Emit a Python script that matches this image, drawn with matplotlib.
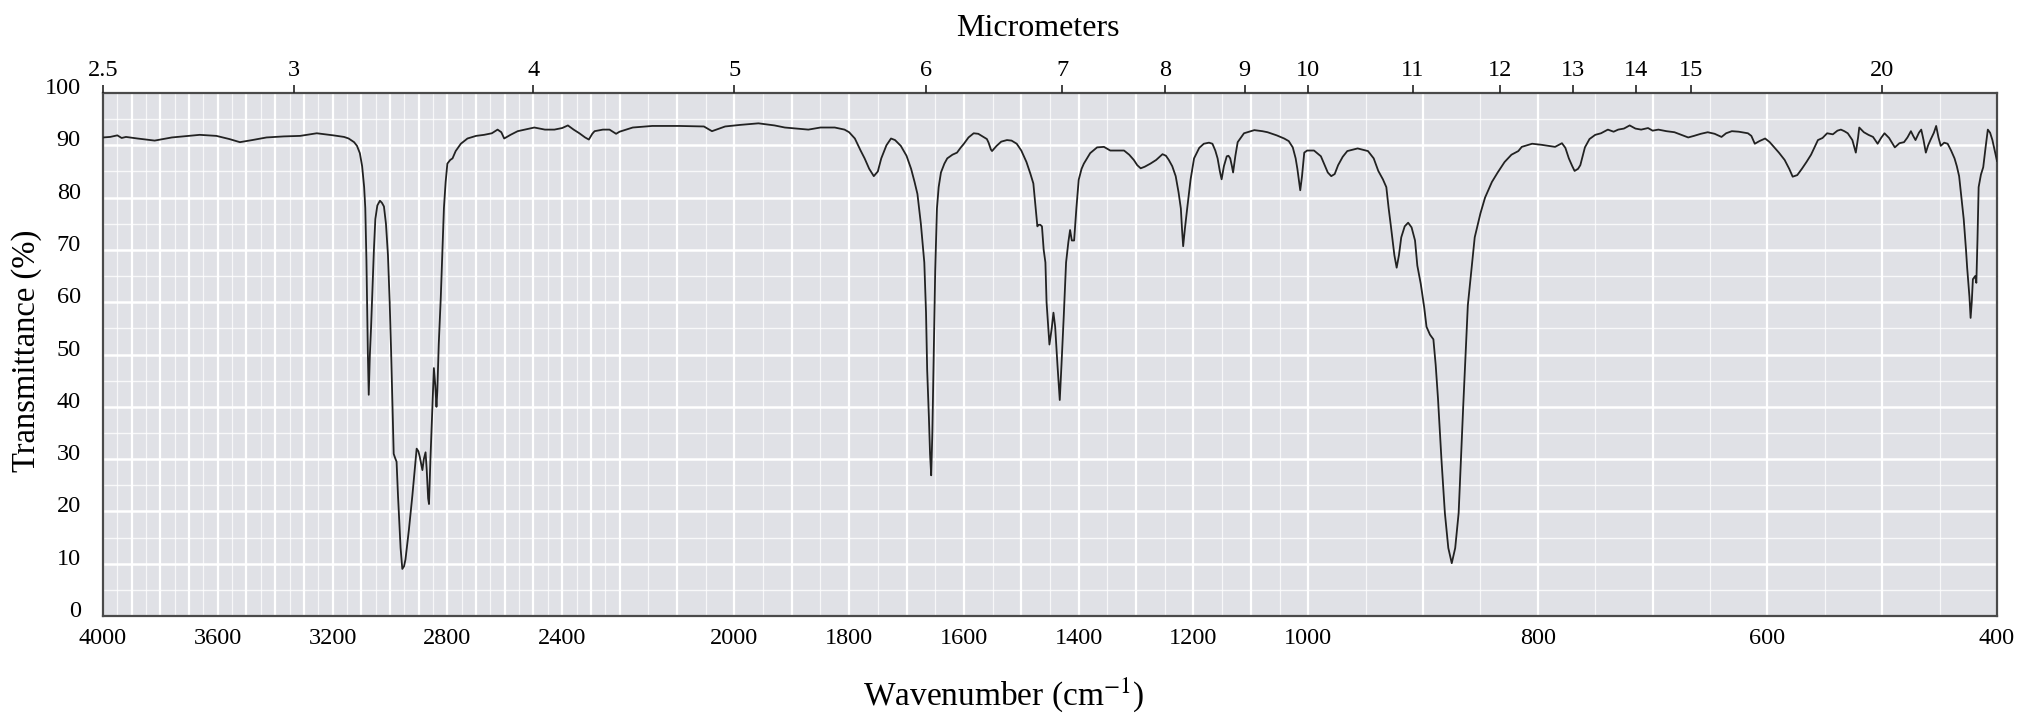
import numpy as np
import matplotlib
matplotlib.use("Agg")
import matplotlib.pyplot as plt
import matplotlib.transforms as mtransforms

plt.rcParams["font.family"] = ["Liberation Serif", "DejaVu Serif"]
plt.rcParams["mathtext.fontset"] = "stix"

# wavenumber (cm-1)
wavenumber = [
    4000, 3975, 3950, 3935, 3920, 3880, 3820, 3760, 3700, 3663, 3605, 3560, 3523, 3480,
    3430, 3370, 3313, 3255, 3197, 3160, 3144, 3125, 3115, 3105, 3097, 3090, 3086, 3082,
    3080, 3077, 3074, 3070, 3066, 3062, 3056, 3051, 3044, 3035, 3028, 3021, 3014, 3007,
    3001, 2996, 2991, 2987, 2982, 2977, 2972, 2969, 2963, 2957, 2951, 2946, 2934, 2922,
    2913, 2907, 2901, 2896, 2887, 2882, 2876, 2872, 2867, 2864, 2859, 2852, 2847, 2842,
    2838, 2835, 2830, 2823, 2817, 2812, 2806, 2800, 2790, 2782, 2771, 2753, 2730, 2700,
    2672, 2645, 2625, 2612, 2602, 2580, 2555, 2497, 2460, 2427, 2400, 2380, 2360, 2340,
    2320, 2307, 2295, 2287, 2258, 2235, 2212, 2200, 2177, 2143, 2096, 2053, 2039, 2016,
    1990, 1958, 1930, 1912, 1871, 1850, 1825, 1808, 1800, 1790, 1780, 1773, 1765, 1757,
    1750, 1744, 1735, 1727, 1720, 1710, 1700, 1692, 1686, 1681, 1675, 1669, 1666, 1664,
    1661, 1659, 1657, 1655, 1652, 1650, 1647, 1644, 1640, 1634, 1629, 1620, 1612, 1606,
    1600, 1592, 1583, 1575, 1566, 1560, 1557, 1553, 1551, 1547, 1543, 1535, 1525, 1517,
    1508, 1500, 1491, 1484, 1479, 1475, 1472, 1470, 1467, 1464, 1461, 1458, 1456, 1453,
    1451, 1447, 1444, 1441, 1437, 1433, 1430, 1426, 1422, 1418, 1415, 1412, 1408, 1404,
    1400, 1395, 1391, 1380, 1368, 1356, 1345, 1333, 1321, 1312, 1304, 1298, 1292, 1285,
    1275, 1265, 1254, 1248, 1243, 1237, 1231, 1226, 1222, 1220, 1218, 1215, 1211, 1205,
    1199, 1190, 1182, 1173, 1167, 1162, 1158, 1154, 1151, 1147, 1142, 1139, 1136, 1133,
    1131, 1127, 1123, 1112, 1094, 1080, 1071, 1055, 1042, 1034, 1027, 1022, 1019, 1016,
    1014, 1011, 1007, 1002, 995, 989, 983, 980, 977, 974, 970, 966, 957, 948,
    943, 939, 935, 932, 930, 928, 925, 923, 921, 919, 916, 913, 910, 907,
    905, 902, 899, 897, 894, 891, 889, 887, 884, 881, 878, 875, 872, 869,
    867, 865, 863, 861, 858, 855, 850, 846, 840, 835, 829, 823, 817, 814,
    805, 797, 785, 779, 776, 773, 770, 768, 765, 763, 759, 755, 750, 745,
    739, 734, 730, 725, 720, 715, 710, 704, 700, 695, 688, 681, 675, 669,
    664, 658, 652, 646, 640, 636, 631, 625, 617, 614, 611, 607, 602, 598,
    594, 590, 585, 581, 578, 574, 570, 566, 562, 559, 556, 552, 548, 543,
    539, 536, 533, 530, 526, 523, 521, 520, 516, 512, 508, 504, 501, 498,
    494, 489, 485, 481, 478, 475, 473, 471, 468, 466, 464, 462, 460, 458,
    455, 453, 451, 449, 446, 443, 440, 437, 435, 433, 431, 429, 427, 426,
    424, 423, 422, 421, 419, 418, 417, 416, 414, 412, 410, 408, 406, 404,
    402, 400,
]

# transmittance (%)
transmittance = [
    91.5, 91.6, 91.9, 91.4, 91.6, 91.3, 90.9, 91.5, 91.8, 92.0, 91.8, 91.2, 90.6, 91.0,
    91.5, 91.7, 91.8, 92.3, 91.9, 91.6, 91.3, 90.6, 89.9, 88.5, 86.0, 82.0, 78.0, 68.0,
    60.8, 50.0, 42.3, 50.0, 55.0, 61.0, 70.0, 75.9, 78.5, 79.4, 79.0, 78.3, 75.0, 69.0,
    60.0, 50.5, 40.0, 31.0, 30.2, 29.5, 23.0, 19.7, 13.0, 9.0, 9.5, 10.8, 16.5, 23.0,
    28.5, 32.0, 31.5, 30.4, 27.9, 30.0, 31.3, 28.0, 22.5, 21.4, 30.0, 40.2, 47.4, 44.0,
    40.0, 43.0, 52.0, 60.8, 70.0, 78.0, 83.0, 86.5, 87.2, 87.5, 88.9, 90.3, 91.3, 91.8,
    92.0, 92.3, 93.0, 92.5, 91.3, 92.0, 92.7, 93.4, 93.0, 93.0, 93.3, 93.8, 93.0, 92.3,
    91.5, 91.1, 92.2, 92.7, 93.0, 93.0, 92.2, 92.6, 93.4, 93.7, 93.7, 93.6, 92.7, 93.6,
    93.9, 94.2, 93.8, 93.4, 93.0, 93.4, 93.4, 93.0, 92.5, 91.3, 89.0, 87.5, 85.5, 84.1,
    85.0, 87.5, 90.0, 91.3, 91.0, 89.9, 88.0, 85.5, 83.0, 80.7, 75.0, 67.6, 58.0, 47.0,
    38.0, 31.0, 26.9, 35.0, 54.0, 66.0, 77.9, 82.0, 84.8, 86.5, 87.5, 88.2, 88.6, 89.5,
    90.3, 91.5, 92.3, 92.2, 91.6, 91.2, 90.5, 89.2, 88.9, 89.4, 89.9, 90.7, 91.0, 90.9,
    90.3, 89.0, 86.8, 84.5, 82.7, 78.0, 74.5, 74.8, 74.8, 74.5, 70.0, 67.6, 60.0, 55.0,
    51.9, 55.0, 58.0, 55.3, 48.0, 41.3, 48.0, 57.4, 67.6, 71.5, 73.8, 71.8, 71.8, 78.0,
    83.4, 85.5, 86.5, 88.5, 89.6, 89.7, 89.0, 89.0, 89.0, 88.2, 87.2, 86.2, 85.6, 85.9,
    86.5, 87.2, 88.3, 88.0, 87.2, 86.0, 84.1, 81.0, 77.9, 74.0, 70.7, 74.0, 77.9, 83.5,
    87.5, 89.5, 90.3, 90.5, 90.3, 89.0, 87.5, 85.0, 83.5, 86.0, 87.9, 88.0, 87.5, 86.0,
    84.8, 88.0, 90.6, 92.3, 92.9, 92.7, 92.5, 91.9, 91.3, 90.8, 89.6, 87.5, 85.5, 83.0,
    81.4, 84.0, 88.6, 89.0, 89.0, 87.9, 84.8, 84.1, 84.5, 86.2, 87.8, 88.9, 89.4, 88.9,
    87.5, 85.1, 83.5, 82.0, 78.0, 74.5, 69.0, 66.6, 69.0, 72.4, 74.5, 75.2, 74.3, 71.8,
    67.0, 63.5, 59.0, 55.3, 53.8, 52.9, 48.0, 41.6, 30.0, 19.7, 13.0, 10.1, 13.0, 19.7,
    30.0, 40.2, 50.0, 59.4, 66.0, 72.4, 77.0, 80.0, 83.0, 84.8, 86.8, 88.2, 88.9, 89.7,
    90.3, 90.1, 89.7, 90.4, 89.5, 87.5, 86.0, 85.1, 85.5, 86.2, 89.6, 91.2, 92.0, 92.3,
    93.0, 92.6, 93.0, 93.2, 93.8, 93.2, 93.0, 93.3, 92.8, 93.0, 92.7, 92.5, 92.0, 91.5,
    91.8, 92.2, 92.5, 92.2, 91.6, 92.3, 92.7, 92.6, 92.3, 91.8, 90.3, 90.8, 91.3, 90.6,
    89.6, 88.6, 87.2, 85.5, 84.0, 84.3, 85.5, 86.8, 88.2, 89.6, 91.0, 91.4, 92.3, 92.1,
    92.8, 93.0, 92.7, 92.3, 91.0, 88.6, 91.5, 93.4, 92.5, 92.0, 91.6, 90.3, 91.4, 92.3,
    91.4, 89.6, 90.4, 90.6, 91.5, 92.7, 91.8, 91.0, 92.4, 93.0, 91.0, 88.6, 90.0, 91.0,
    92.4, 93.7, 91.5, 89.9, 90.5, 90.3, 89.0, 87.5, 86.0, 84.1, 80.0, 75.9, 70.0, 66.6,
    61.0, 57.0, 60.0, 64.4, 65.0, 63.7, 72.0, 82.0, 84.4, 85.8, 89.5, 93.0, 92.4, 91.0,
    89.0, 87.0,
]

wn_ticks = [4000, 3600, 3200, 2800, 2400, 2000, 1800, 1600, 1400, 1200, 1000, 800, 600, 400]
um_ticks = [2.5, 3, 4, 5, 6, 7, 8, 9, 10, 11, 12, 13, 14, 15, 20]
um_labels = ["2.5", "3", "4", "5", "6", "7", "8", "9", "10", "11", "12", "13", "14", "15", "20"]
pct_ticks = list(range(0, 101, 10))

# chart paper: scale doubles at 2200 and again at 1000 cm-1
brk_wn = [400, 1000, 2200, 4000]
brk_u = [0, 2400, 4800, 6600]


def forward(w):
    return np.interp(w, brk_wn, brk_u)


def inverse(u):
    return np.interp(u, brk_u, brk_wn)


fig = plt.figure(figsize=(20.23, 7.14), dpi=100)
ax = fig.add_axes([103 / 2023, 98 / 714, 1894 / 2023, 523 / 714])
ax.set_xscale("function", functions=(forward, inverse))
ax.set_xlim(4000, 400)
ax.set_ylim(0, 100)
ax.set_facecolor("#e0e1e6")

# paper grid
for w in np.arange(400, 4001, 50):
    major = w % 100 == 0
    ax.axvline(w, color="white", lw=1.6 if major else 0.9, alpha=1.0 if major else 0.75, zorder=1)
for p in np.arange(5, 100, 5):
    major = p % 10 == 0
    ax.axhline(p, color="white", lw=1.8 if major else 1.0, alpha=1.0 if major else 0.8, zorder=1)

ax.plot(wavenumber, transmittance, color="#222222", lw=1.3, zorder=3)

ax.set_xticks(wn_ticks)
ax.set_xticklabels([str(t) for t in wn_ticks])
ax.set_yticks(pct_ticks)
ax.tick_params(axis="x", length=0, pad=9, labelsize=17.5)
ax.tick_params(axis="y", length=0, pad=16, labelsize=17.5)
shift = mtransforms.ScaledTranslation(0, 7 / 100, fig.dpi_scale_trans)
for lab in ax.get_yticklabels():
    lab.set_transform(lab.get_transform() + shift)

for sp in ax.spines.values():
    sp.set_color("#4a4a4a")
    sp.set_linewidth(1.6)

# micrometer scale on top, same paper scale
top = ax.twiny()
top.set_xscale("function", functions=(forward, inverse))
top.set_xlim(4000, 400)
top.set_xticks([10000 / m for m in um_ticks])
top.set_xticklabels(um_labels)
top.xaxis.set_minor_locator(matplotlib.ticker.NullLocator())
top.tick_params(axis="x", direction="out", length=6, width=1.2, pad=3, labelsize=17.5, color="#222222")
for sp in top.spines.values():
    sp.set_visible(False)

fig.text(1038 / 2023, 1 - 29 / 714, "Micrometers", ha="center", va="center", fontsize=23)
fig.text(1004 / 2023, 1 - 695 / 714, r"Wavenumber (cm$^{-1}$)", ha="center", va="center", fontsize=24)
fig.text(27 / 2023, 1 - 351 / 714, "Transmittance (%)", ha="center", va="center",
         rotation=90, fontsize=23.5)

fig.savefig("out.png", dpi=100)
